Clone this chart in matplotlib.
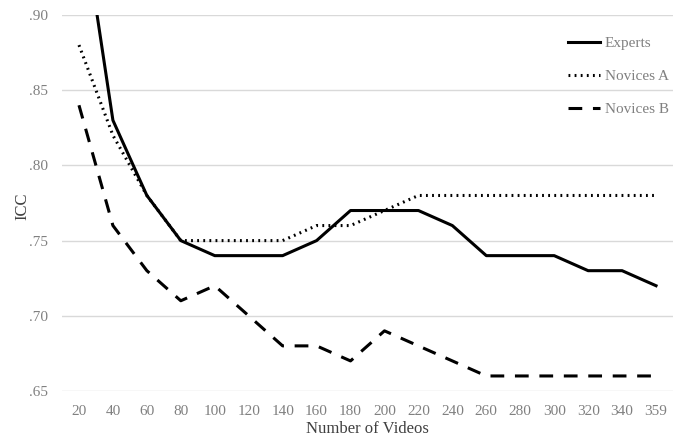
import matplotlib
matplotlib.use('Agg')
import matplotlib.pyplot as plt

videos = ['20', '40', '60', '80', '100', '120', '140', '160', '180', '200',
          '220', '240', '260', '280', '300', '320', '340', '359']
experts = [.98, .83, .78, .75, .74, .74, .74, .75, .77, .77,
           .77, .76, .74, .74, .74, .73, .73, .72]
novices_a = [.88, .82, .78, .75, .75, .75, .75, .76, .76, .77,
             .78, .78, .78, .78, .78, .78, .78, .78]
novices_b = [.84, .76, .73, .71, .72, .70, .68, .68, .67, .69,
             .68, .67, .66, .66, .66, .66, .66, .66]
yticks = [.65, .70, .75, .80, .85, .90]

plt.rcParams['font.family'] = ['Liberation Serif', 'DejaVu Serif']

fig = plt.figure(figsize=(6.85, 4.45), dpi=100)
ax = fig.add_axes([62/685, 1 - 391/445, (673-62)/685, (391-15)/445])

x = list(range(len(videos)))
ax.plot(x, experts, color='black', lw=2.2, ls='-', label='Experts')
ax.plot(x, novices_a, color='black', lw=2.2, ls=(0, (0.6, 1.4)), label='Novices A')
ax.plot(x, novices_b, color='black', lw=2.2, ls=(0, (4.5, 3.5)), label='Novices B')

ax.set_xlim(-0.5, len(videos) - 0.5)
ax.set_ylim(.65, .90)
ax.set_xticks(x)
ax.set_xticklabels(videos)
ax.set_yticks(yticks)
ax.set_yticklabels(['.%02d' % round(v * 100) for v in yticks])
ax.grid(axis='y', color='#d9d9d9', lw=1)
ax.set_axisbelow(True)
for s in ax.spines.values():
    s.set_visible(False)
ax.tick_params(length=0, labelsize=11, labelcolor='#808080', pad=10)
ax.tick_params(axis='y', pad=10)

ax.set_xlabel('Number of Videos', fontsize=12, color='#404040')
ax.set_ylabel('ICC', fontsize=12, color='#404040')
ax.xaxis.set_label_coords((367-62)/611, -(421-391)/376)
ax.yaxis.set_label_coords(-(62-30)/611, (391-206)/376)

leg = ax.legend(loc='upper right', bbox_to_anchor=(1.016, 0.979), frameon=False,
                fontsize=11, handlelength=2.1, handletextpad=0.3, labelspacing=1.25,
                labelcolor='#808080')

fig.savefig('out.png', dpi=100)
